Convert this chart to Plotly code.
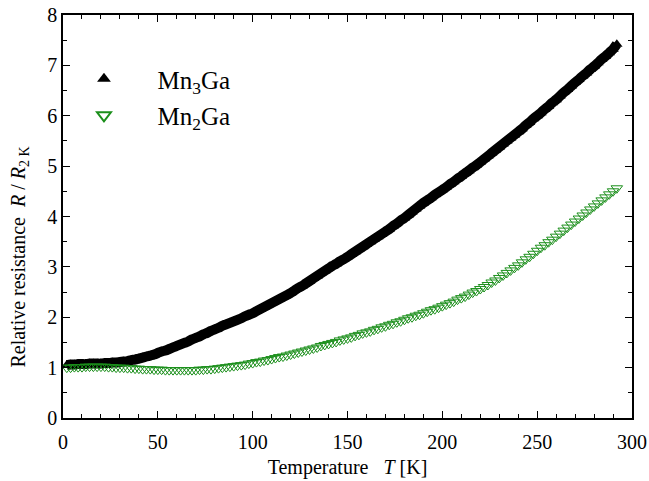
import plotly.graph_objects as go

temperature_K = [2, 4, 6, 8, 10, 12, 14, 16, 18, 20, 22, 24, 26, 28, 30, 32, 34, 36, 38, 40,
                 42, 44, 46, 48, 50, 52, 54, 56, 58, 60, 62, 64, 66, 68, 70, 72, 74, 76, 78, 80,
                 82, 84, 86, 88, 90, 92, 94, 96, 98, 100, 102, 104, 106, 108, 110, 112, 114, 116, 118, 120,
                 122, 124, 126, 128, 130, 132, 134, 136, 138, 140, 142, 144, 146, 148, 150, 152, 154, 156, 158, 160,
                 162, 164, 166, 168, 170, 172, 174, 176, 178, 180, 182, 184, 186, 188, 190, 192, 194, 196, 198, 200,
                 202, 204, 206, 208, 210, 212, 214, 216, 218, 220, 222, 224, 226, 228, 230, 232, 234, 236, 238, 240,
                 242, 244, 246, 248, 250, 252, 254, 256, 258, 260, 262, 264, 266, 268, 270, 272, 274, 276, 278, 280,
                 282, 284, 286, 288, 290, 292]

mn3ga = [1.05, 1.06, 1.06, 1.07, 1.07, 1.07, 1.08, 1.08, 1.08, 1.08,
         1.09, 1.09, 1.10, 1.10, 1.11, 1.12, 1.13, 1.15, 1.16, 1.18,
         1.20, 1.22, 1.24, 1.26, 1.29, 1.32, 1.34, 1.37, 1.40, 1.43,
         1.46, 1.49, 1.52, 1.56, 1.59, 1.62, 1.66, 1.69, 1.73, 1.76,
         1.79, 1.83, 1.86, 1.89, 1.92, 1.95, 1.98, 2.02, 2.05, 2.08,
         2.12, 2.16, 2.20, 2.24, 2.28, 2.32, 2.36, 2.40, 2.44, 2.48,
         2.53, 2.58, 2.62, 2.67, 2.72, 2.77, 2.82, 2.87, 2.92, 2.97,
         3.02, 3.06, 3.11, 3.15, 3.20, 3.25, 3.30, 3.35, 3.40, 3.45,
         3.50, 3.55, 3.60, 3.65, 3.70, 3.75, 3.81, 3.86, 3.92, 3.97,
         4.03, 4.09, 4.15, 4.21, 4.27, 4.32, 4.37, 4.43, 4.48, 4.53,
         4.58, 4.64, 4.69, 4.75, 4.80, 4.86, 4.91, 4.97, 5.02, 5.08,
         5.14, 5.20, 5.26, 5.32, 5.38, 5.44, 5.50, 5.56, 5.62, 5.68,
         5.74, 5.81, 5.87, 5.94, 6.00, 6.06, 6.13, 6.19, 6.26, 6.32,
         6.39, 6.46, 6.52, 6.59, 6.66, 6.72, 6.79, 6.85, 6.92, 6.98,
         7.05, 7.12, 7.18, 7.25, 7.32, 7.42]

mn2ga = [1.00, 1.00, 1.01, 1.01, 1.01, 1.02, 1.02, 1.02, 1.02, 1.02,
         1.02, 1.01, 1.01, 1.00, 1.00, 1.00, 0.99, 0.99, 0.98, 0.98,
         0.97, 0.97, 0.97, 0.96, 0.96, 0.96, 0.95, 0.95, 0.95, 0.95,
         0.95, 0.95, 0.95, 0.95, 0.95, 0.96, 0.96, 0.97, 0.97, 0.98,
         0.99, 1.00, 1.01, 1.02, 1.03, 1.04, 1.05, 1.06, 1.08, 1.09,
         1.11, 1.12, 1.14, 1.15, 1.17, 1.19, 1.21, 1.22, 1.24, 1.26,
         1.28, 1.30, 1.32, 1.34, 1.36, 1.38, 1.40, 1.43, 1.45, 1.47,
         1.49, 1.51, 1.54, 1.56, 1.58, 1.60, 1.63, 1.65, 1.68, 1.70,
         1.72, 1.75, 1.77, 1.80, 1.82, 1.85, 1.87, 1.90, 1.92, 1.95,
         1.98, 2.00, 2.03, 2.05, 2.08, 2.11, 2.14, 2.16, 2.19, 2.22,
         2.25, 2.28, 2.31, 2.35, 2.38, 2.41, 2.45, 2.49, 2.52, 2.56,
         2.60, 2.64, 2.69, 2.73, 2.78, 2.83, 2.88, 2.93, 2.98, 3.03,
         3.09, 3.15, 3.20, 3.26, 3.32, 3.38, 3.43, 3.49, 3.54, 3.60,
         3.66, 3.72, 3.78, 3.84, 3.90, 3.96, 4.02, 4.08, 4.14, 4.20,
         4.26, 4.32, 4.38, 4.44, 4.50, 4.56]

FONT = "Liberation Serif"
GREEN = "#1b8f1b"

fig = go.Figure()
# black band (dense overlapping data points)
fig.add_trace(go.Scatter(
    x=temperature_K, y=mn3ga, mode="lines", showlegend=False, hoverinfo="skip",
    line=dict(color="black", width=10, shape="spline", smoothing=1)))
fig.add_trace(go.Scatter(
    x=temperature_K, y=mn3ga, mode="markers", name="Mn<sub>3</sub>Ga", legendgroup="a",
    marker=dict(symbol="triangle-up", size=10, color="black",
                line=dict(width=0))))
fig.add_trace(go.Scatter(
    x=temperature_K, y=mn2ga, mode="markers", name="Mn<sub>2</sub>Ga", legendgroup="b",
    marker=dict(symbol="triangle-down-open", size=10, color=GREEN,
                line=dict(width=1, color=GREEN))))

axis_common = dict(
    showgrid=False, zeroline=False, showline=True, linecolor="black",
    linewidth=1.5, mirror="ticks", ticks="inside", ticklen=7, tickwidth=1.3,
    tickcolor="black", tickfont=dict(family=FONT, size=20, color="black"),
    automargin=False,
)

fig.update_xaxes(
    range=[0, 300], dtick=50, tick0=0, ticklabelstandoff=5,
    minor=dict(ticks="inside", dtick=10, ticklen=4, tickwidth=1.2, tickcolor="black"),
    title=dict(text="Temperature   <i>T</i> [K]",
               font=dict(family=FONT, size=20, color="black"), standoff=8),
    **axis_common)
fig.update_yaxes(
    range=[0, 8], dtick=1, tick0=0,
    minor=dict(ticks="inside", dtick=0.5, ticklen=4, tickwidth=1.2, tickcolor="black"),
    **axis_common)

fig.add_annotation(
    text="Relative resistance  <i>R</i> / <i>R</i><sub>2 K</sub>",
    xref="paper", yref="paper", x=-0.076, y=0.40, xanchor="center", yanchor="middle",
    textangle=-90, showarrow=False,
    font=dict(family=FONT, size=20, color="black"))

fig.update_layout(
    width=649, height=481,
    margin=dict(l=63, r=17, t=15, b=63),
    paper_bgcolor="white", plot_bgcolor="white",
    legend=dict(x=-0.022, y=0.898, xanchor="left", yanchor="top",
                bgcolor="rgba(0,0,0,0)", itemwidth=97,
                font=dict(family=FONT, size=25, color="black"),
                tracegroupgap=1, itemsizing="constant"),
)

fig.write_html("out.html")
